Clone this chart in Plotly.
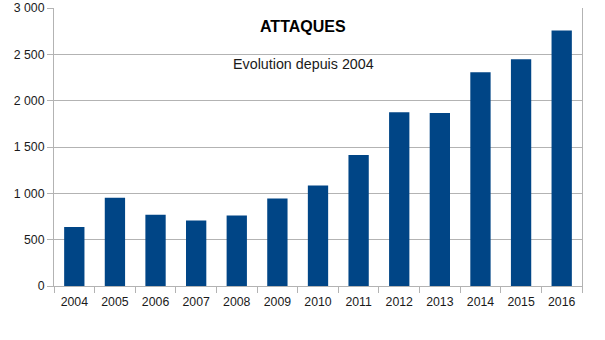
import plotly.graph_objects as go

years = ["2004", "2005", "2006", "2007", "2008", "2009", "2010",
         "2011", "2012", "2013", "2014", "2015", "2016"]
attaques = [636, 951, 768, 706, 762, 945, 1085, 1415, 1875, 1867, 2306, 2447, 2756]
y_ticks = [0, 500, 1000, 1500, 2000, 2500, 3000]

title_text = "ATTAQUES"
subtitle_text = "Evolution depuis 2004"

fig = go.Figure(go.Bar(x=years, y=attaques, marker=dict(color="#004586", line=dict(width=0)),
                       hoverinfo="x+y"))

grid = "#b3b3b3"
fig.update_layout(
    width=605, height=340,
    margin=dict(l=54, r=23, t=7.5, b=54, autoexpand=False),
    paper_bgcolor="white", plot_bgcolor="white",
    bargap=0.5,
    separators=", ",
    showlegend=False,
    font=dict(family="Liberation Sans, Arial, sans-serif", size=12, color="#1a1a1a"),
    xaxis=dict(type="category", tickson="boundaries", ticks="outside", ticklen=6,
               tickcolor=grid, showline=True, linecolor=grid, linewidth=1,
               showgrid=False, tickfont=dict(size=12.3), automargin=False,
               ticklabelstandoff=4),
    yaxis=dict(range=[0, 3000], tickvals=y_ticks, tickformat=",d", ticks="outside",
               ticklen=6, tickcolor=grid, showline=True, linecolor=grid, mirror=True,
               showgrid=True, gridcolor=grid, gridwidth=1, zeroline=False,
               tickfont=dict(size=12.3), automargin=False),
    annotations=[
        dict(text="<b>" + title_text + "</b>", xref="paper", yref="paper",
             x=0.472, y=0.934, xanchor="center", yanchor="middle", showarrow=False,
             font=dict(size=16, color="#000000")),
        dict(text=subtitle_text, xref="paper", yref="paper",
             x=0.472, y=0.80, xanchor="center", yanchor="middle", showarrow=False,
             font=dict(size=14.3, color="#1a1a1a")),
    ],
)

fig.write_html("out.html")
